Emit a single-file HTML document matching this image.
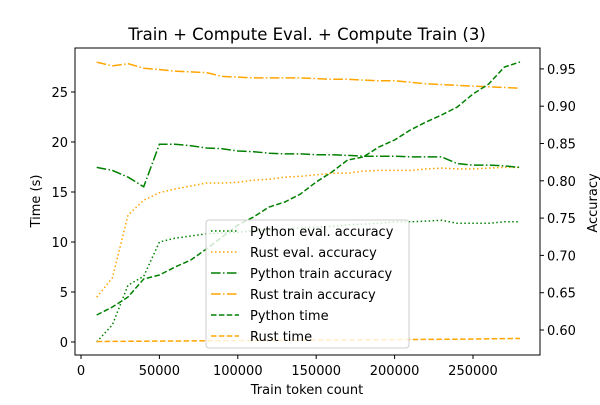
<!DOCTYPE html>
<html><head><meta charset="utf-8"><style>
body{margin:0;background:#fff;position:relative}
svg{font-family:"DejaVu Sans","Liberation Sans",sans-serif}
</style></head><body>
<svg id="chart" width="600" height="400" xmlns="http://www.w3.org/2000/svg">
<rect width="600" height="400" fill="#fff"/>
<g id="series"></g>
<g id="axes"></g>
<text x="307" y="40" font-size="16.5" text-anchor="middle">Train + Compute Eval. + Compute Train (3)</text>
<text x="307" y="394" font-size="13" text-anchor="middle">Train token count</text>
<text transform="translate(40,201) rotate(-90)" font-size="13" text-anchor="middle">Time (s)</text>
<text transform="translate(597,203) rotate(-90)" font-size="13" text-anchor="middle">Accuracy</text>
</svg>
<script>
const xTokens=[10000,20000,30000,40000,50000,60000,70000,80000,90000,100000,110000,120000,130000,140000,150000,160000,170000,180000,190000,200000,210000,220000,230000,240000,250000,260000,270000,280000];
const pyEvalAcc=[.584,.607,.660,.672,.718,.723,.726,.729,.730,.731,.733,.734,.735,.737,.738,.739,.741,.742,.743,.745,.745,.746,.747,.743,.743,.743,.745,.745];
const rustEvalAcc=[.644,.670,.754,.774,.784,.789,.793,.797,.797,.798,.801,.802,.805,.806,.808,.810,.810,.813,.814,.814,.814,.816,.817,.816,.816,.817,.818,.818];
const pyTrainAcc=[.818,.814,.805,.792,.849,.849,.847,.844,.843,.840,.839,.837,.836,.836,.835,.835,.834,.833,.833,.833,.832,.832,.832,.823,.821,.821,.820,.818];
const rustTrainAcc=[.959,.954,.957,.951,.949,.947,.946,.945,.940,.939,.938,.938,.938,.938,.937,.936,.936,.935,.934,.934,.932,.930,.929,.928,.927,.926,.925,.924];
const pyTime=[2.7,3.5,4.5,6.3,6.7,7.5,8.2,9.3,10.5,11.7,12.5,13.5,14.0,14.8,16.0,17.0,18.2,18.5,19.5,20.2,21.2,22.0,22.7,23.5,24.8,25.8,27.5,28.0];
const rustTime=[0.05,0.06,0.07,0.08,0.09,0.10,0.11,0.12,0.13,0.14,0.15,0.16,0.17,0.18,0.19,0.20,0.21,0.22,0.23,0.24,0.25,0.26,0.27,0.28,0.30,0.32,0.34,0.35];
const xTicks=[0,50000,100000,150000,200000,250000];
const yTicks=[0,5,10,15,20,25];
const accTicks=[0.60,0.65,0.70,0.75,0.80,0.85,0.90,0.95];

const L=75,R=540,T=48,B=355;
const sx=v=>81+v*(78.4/50000);
const sy=v=>342-v*10;
const sa=v=>330-(v-0.60)/0.05*37.3;
const NS="http://www.w3.org/2000/svg";
function mk(tag,attrs,parent){const e=document.createElementNS(NS,tag);for(const k in attrs)e.setAttribute(k,attrs[k]);parent.appendChild(e);return e;}
const S=document.getElementById('series'),A=document.getElementById('axes');
const G='#008000',O='#ffa500';
const DOT='1.5 2.5',DASH='5.5 2.4',DD='9.6 2.4 1.5 2.4';
function line(vals,scale,color,dash,name){
  const pts=vals.map((v,i)=>sx(xTokens[i]).toFixed(1)+','+scale(v).toFixed(1)).join(' ');
  const p=mk('polyline',{points:pts,fill:'none',stroke:color,'stroke-width':1.5,'stroke-dasharray':dash},S);
  
  
}
line(pyEvalAcc,sa,G,DOT,'python-eval-accuracy-line');
line(rustEvalAcc,sa,O,DOT,'rust-eval-accuracy-line');
line(pyTrainAcc,sa,G,DD,'python-train-accuracy-line');
line(rustTrainAcc,sa,O,DD,'rust-train-accuracy-line');
line(pyTime,sy,G,DASH,'python-time-line');
line(rustTime,sy,O,DASH,'rust-time-line');

const frame=mk('rect',{x:L,y:T,width:R-L,height:B-T,fill:'none',stroke:'#000','stroke-width':1},A);


xTicks.forEach(v=>{const x=sx(v);mk('line',{x1:x,x2:x,y1:B,y2:B+4,stroke:'#000'},A);
  const t=mk('text',{x:x,y:B+20,'font-size':13,'text-anchor':'middle'},A);t.textContent=v;
  
  });
yTicks.forEach(v=>{const y=sy(v);mk('line',{x1:L-4,x2:L,y1:y,y2:y,stroke:'#000'},A);
  const t=mk('text',{x:L-7,y:y+5,'font-size':13,'text-anchor':'end'},A);t.textContent=v;
  
  });
accTicks.forEach(v=>{const y=sa(v);mk('line',{x1:R,x2:R+4,y1:y,y2:y,stroke:'#000'},A);
  const t=mk('text',{x:R+7,y:y+5,'font-size':13},A);t.textContent=v.toFixed(2);
  
  });

const lg=mk('g',{},A);


mk('rect',{x:206,y:220,width:203,height:128,rx:3,fill:'rgba(255,255,255,0.8)',stroke:'#ccc'},lg);
const entries=[['Python eval. accuracy',G,DOT],['Rust eval. accuracy',O,DOT],['Python train accuracy',G,DD],['Rust train accuracy',O,DD],['Python time',G,DASH],['Rust time',O,DASH]];
entries.forEach((e,i)=>{const y=231+i*21;
  const g=mk('g',{},lg);
  
  
  mk('line',{x1:211,x2:239,y1:y,y2:y,stroke:e[1],'stroke-width':1.5,'stroke-dasharray':e[2]},g);
  const t=mk('text',{x:250,y:y+5,'font-size':13},g);t.textContent=e[0];});
</script>
</body></html>
